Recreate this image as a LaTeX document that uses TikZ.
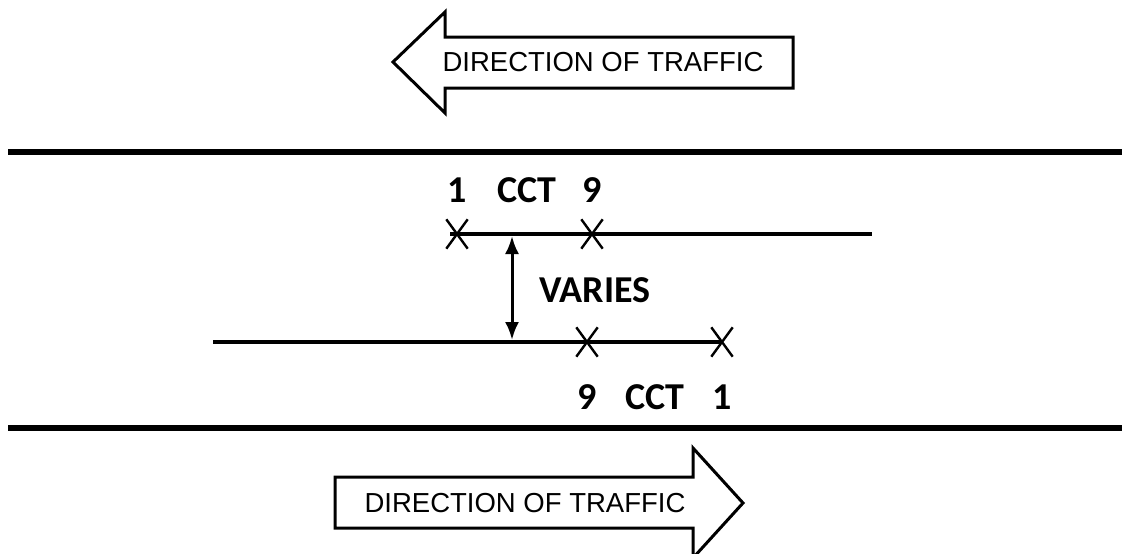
\documentclass[tikz,border=0pt]{standalone}
\usepackage{fontspec}
\setmainfont{Liberation Sans}
\newfontfamily\calfont{Carlito}
\usetikzlibrary{shapes.misc,arrows.meta,positioning,calc}

\tikzset{
  road/.style={line width=6pt},
  lane/.style={line width=4pt},
  xmark/.style={cross out, draw, line width=2.4pt, minimum width=19pt, minimum height=27pt, inner sep=0pt},
  trafficarrow/.style={draw, line width=3pt, line join=miter, fill=white},
  dirtext/.style={font=\fontsize{27.5}{30}\selectfont, inner sep=0pt},
  lbl/.style={font=\calfont\bfseries\fontsize{38}{42}\selectfont, inner sep=0pt},
  varies/.style={line width=3pt, {Latex[length=18pt,width=14pt]}-{Latex[length=18pt,width=14pt]}}
}

\begin{document}
\begin{tikzpicture}[x=1pt, y=-1pt]
\useasboundingbox (0,0) rectangle (1122,554);

% traffic arrows
\draw[trafficarrow] (793,37) -- (445,37) -- (445,12) -- (393,62) -- (445,113) -- (445,88) -- (793,88) -- cycle;
\node[dirtext] (toptext) at (603,62) {DIRECTION OF TRAFFIC};

\draw[trafficarrow] (335,477) -- (693,477) -- (693,448) -- (743,503) -- (693,558) -- (693,528) -- (335,528) -- cycle;
\node[dirtext] (bottext) at (525,503) {DIRECTION OF TRAFFIC};

% road edges
\coordinate (edgeTL) at (8,152);
\coordinate (edgeTR) at (1122,152);
\coordinate (edgeBL) at (8,428);
\coordinate (edgeBR) at (1122,428);
\draw[road] (edgeTL) -- (edgeTR);
\draw[road] (edgeBL) -- (edgeBR);

% upper lane
\coordinate (upL) at (450,234);
\coordinate (upR) at (872,234);
\draw[lane] (upL) -- (upR);
\node[xmark] (up1) at (457,234) {};
\node[xmark] (up9) at (592,234) {};
\node[lbl] (lblup1) at (457,190) {1};
\node[lbl] (lblupc) at (527,190) {CCT};
\node[lbl] (lblup9) at (592,190) {9};

% lower lane
\coordinate (loL) at (213,342);
\coordinate (loR) at (722,342);
\draw[lane] (loL) -- (loR);
\node[xmark] (lo9) at (587,342) {};
\node[xmark] (lo1) at (722,342) {};
\node[lbl] (lbllo9) at (587,397) {9};
\node[lbl] (lbllos) at (655,397) {CCT};
\node[lbl] (lbllo1) at (722,397) {1};

% spacing between lanes
\coordinate (gapT) at (512,236);
\coordinate (gapB) at (512,340);
\draw[varies] (gapT) -- (gapB);
\node[lbl] (gaplbl) at (595,290) {VARIES};

\end{tikzpicture}
\end{document}
